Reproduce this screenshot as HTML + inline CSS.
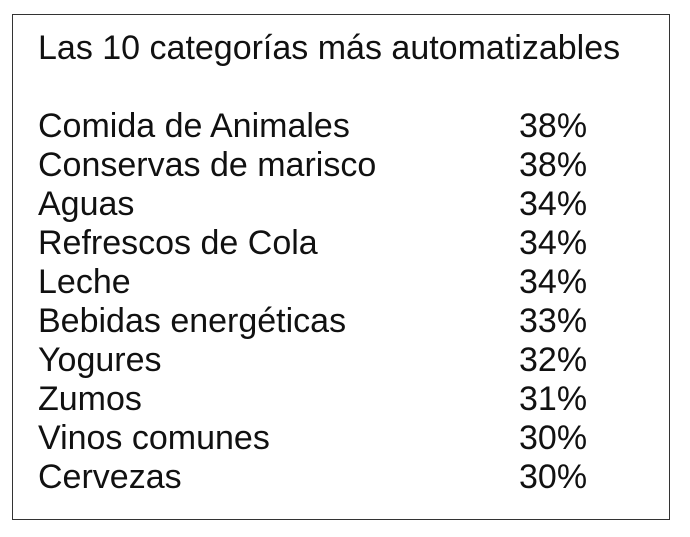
<!DOCTYPE html>
<html><head><meta charset="utf-8"><style>
html,body{margin:0;padding:0;background:#fff;}
body{width:690px;height:537px;position:relative;overflow:hidden;font-family:"Liberation Sans",Arial,sans-serif;color:#111;}
#box{position:absolute;left:12px;top:14px;width:658px;height:506px;border:1.5px solid #333;box-sizing:border-box;}
.t{position:absolute;font-size:34px;line-height:34px;white-space:nowrap;}
</style></head><body>
<div id="box"></div>
<div class="t" style="left:38px;top:31px;">Las 10 categorías más automatizables</div>
<div id="rows"></div>
<script>
const categories=["Comida de Animales","Conservas de marisco","Aguas","Refrescos de Cola","Leche","Bebidas energéticas","Yogures","Zumos","Vinos comunes","Cervezas"];
const values=[38,38,34,34,34,33,32,31,30,30];
const rows=document.getElementById('rows');
categories.forEach((c,i)=>{
  const top=109+i*39;
  const a=document.createElement('div');
  a.className='t';a.style.left='38px';a.style.top=top+'px';a.textContent=c;
  
  
  rows.appendChild(a);
  const b=document.createElement('div');
  b.className='t';b.style.left='519px';b.style.top=top+'px';b.textContent=values[i]+'%';
  
  
  rows.appendChild(b);
});
</script>
</body></html>
